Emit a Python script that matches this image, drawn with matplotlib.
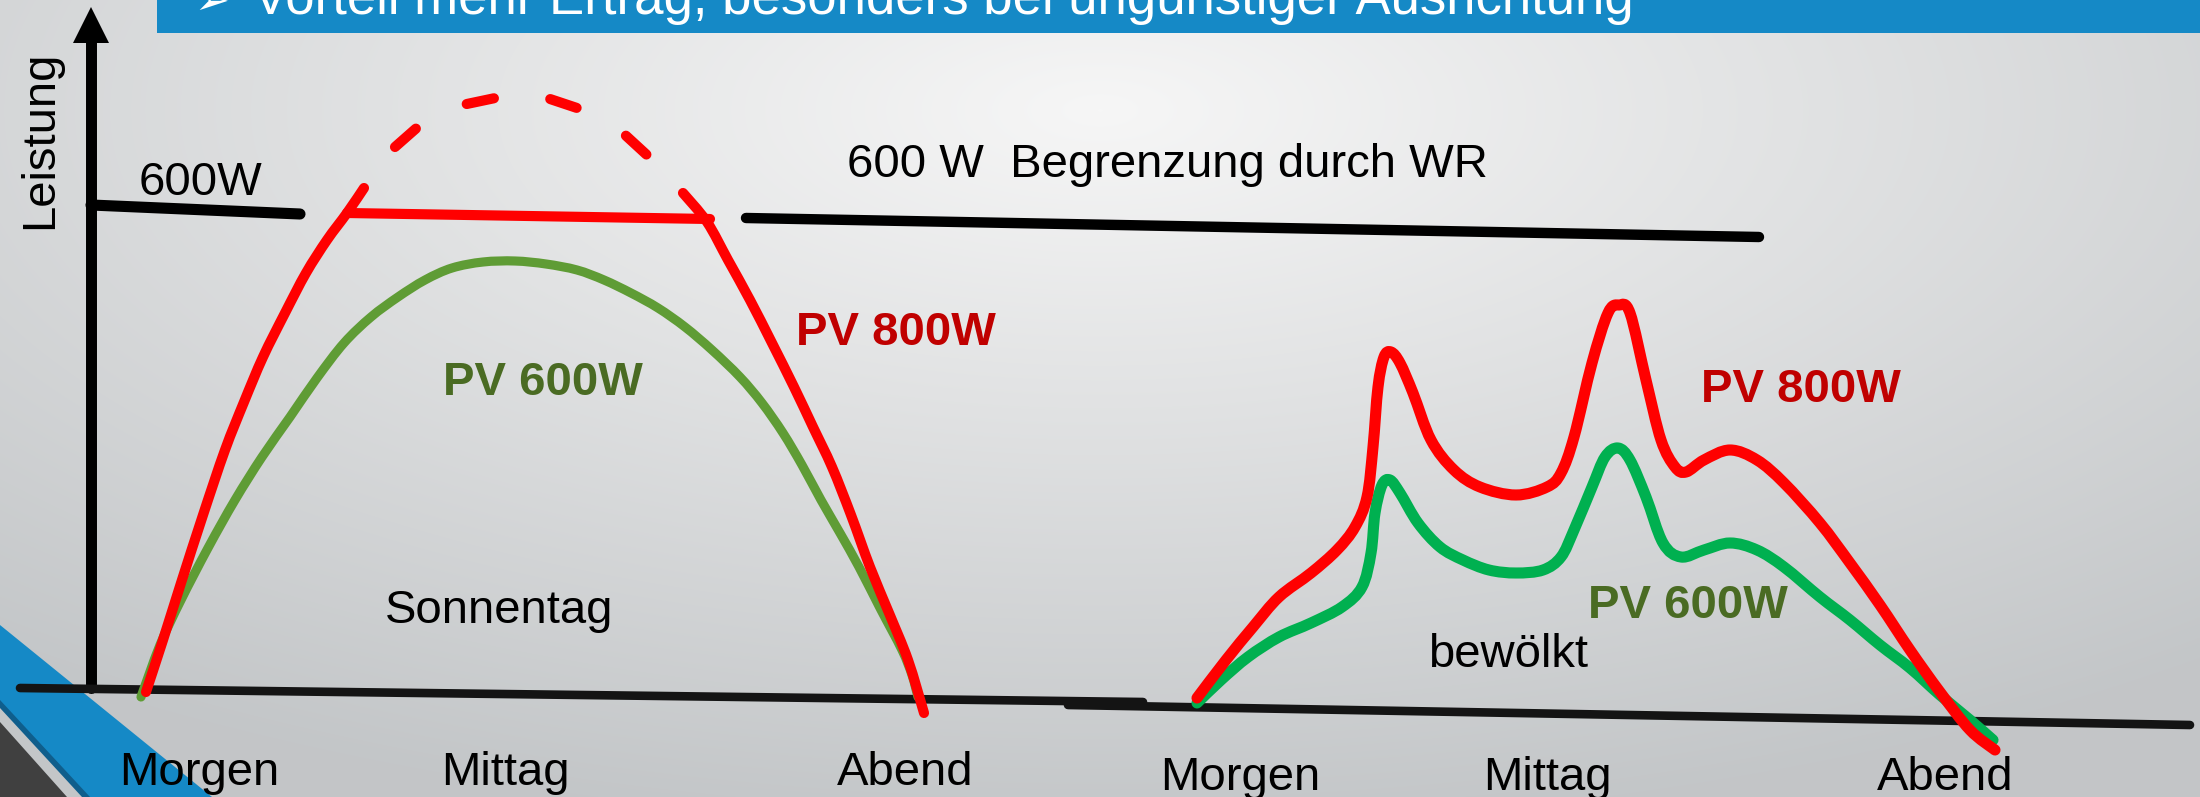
import numpy as np
import matplotlib.pyplot as plt
from matplotlib.path import Path
from matplotlib.patches import PathPatch

plt.rcParams['font.family'] = ['Liberation Sans', 'DejaVu Sans']
plt.rcParams['lines.scale_dashes'] = False

W, H = 2200, 797

# --- left sketch: sunny day (pixel coords of the slide) ---
sun800_left_x = [146, 163, 181, 203, 225, 244, 263, 285, 306, 327, 347, 364]
sun800_left_y = [692, 640, 583, 515, 450, 402, 357, 313, 273, 240, 213, 188]
sun800_right_x = [683, 707, 728, 750, 772, 794, 813, 832, 851, 870, 889, 908, 924]
sun800_right_y = [193, 222, 260, 300, 343, 387, 427, 467, 515, 567, 613, 660, 713]
clip_x = [347, 710]
clip_y = [213, 219]
arc_x = [395, 420, 440, 462, 500, 525, 547, 583, 603, 623, 648]
arc_y = [147, 125, 114, 105, 97, 95, 98, 110, 120, 133, 156]

sun600_x = [141, 160, 181, 208, 235, 262, 290, 317, 344, 371, 398, 425, 452, 483,
            515, 546, 577, 604, 631, 658, 685, 712, 740, 762, 783, 802, 821, 840,
            859, 880, 902, 912, 918]
sun600_y = [697, 645, 600, 548, 500, 457, 417, 378, 343, 317, 297, 280, 268, 262,
            261, 264, 270, 280, 293, 308, 327, 350, 377, 403, 433, 465, 500, 533,
            567, 608, 650, 675, 697]

# --- right sketch: cloudy day ---
cloud800_x = [1197, 1226, 1253, 1279, 1311, 1337, 1355, 1367, 1373, 1378, 1384, 1391,
              1400, 1413, 1431, 1454, 1480, 1516, 1547, 1561, 1574, 1592, 1608, 1619,
              1630, 1646, 1661, 1675, 1686, 1704, 1730, 1757, 1784, 1820, 1850, 1880,
              1910, 1940, 1970, 1995]
cloud800_y = [698, 660, 627, 597, 573, 550, 527, 497, 447, 387, 357, 352,
              363, 393, 440, 470, 487, 495, 487, 473, 437, 363, 313, 305,
              313, 380, 440, 467, 472, 460, 450, 460, 483, 523, 563, 605,
              650, 692, 730, 750]
cloud600_x = [1197, 1221, 1248, 1279, 1311, 1342, 1362, 1371, 1375, 1382, 1390, 1400,
              1418, 1440, 1463, 1489, 1516, 1543, 1561, 1574, 1592, 1605, 1618, 1630,
              1646, 1663, 1681, 1704, 1730, 1757, 1784, 1820, 1850, 1880, 1910, 1940,
              1970, 1993]
cloud600_y = [703, 680, 657, 637, 623, 607, 587, 553, 513, 485, 480, 493,
              523, 547, 560, 570, 573, 570, 557, 530, 487, 457, 448, 460,
              497, 543, 557, 550, 543, 550, 567, 597, 620, 645, 668, 695,
              720, 740]

# axes / limit lines
yaxis_x, yaxis_bottom, yaxis_tip = 91, 688, 7
base_left_x, base_left_y = [20, 1143], [688, 702]
base_right_x, base_right_y = [1068, 2190], [705, 725]
lim_short_x, lim_short_y = [91, 300], [205, 214]
lim_long_x, lim_long_y = [746, 1759], [218, 237]

# labels: (text, x, baseline y)
time_labels = [('Morgen', 199, 785), ('Mittag', 505, 785), ('Abend', 905, 785),
               ('Morgen', 1240, 790), ('Mittag', 1547, 790), ('Abend', 1945, 790)]

RED = '#FF0000'
GREEN_SUN = '#5F9C35'
GREEN_CLOUD = '#00B050'
TXT_RED = '#C00000'
TXT_GREEN = '#4A6B23'
BLUE = '#1589C6'


def sketch_path(xs, ys):
    # smooth bezier through the given points (like a freehand curve in a slide)
    p = np.column_stack([xs, ys]).astype(float)
    ext = np.vstack([p[0], p, p[-1]])
    verts = [p[0]]
    codes = [Path.MOVETO]
    for i in range(len(p) - 1):
        c1 = p[i] + (ext[i + 2] - ext[i]) / 6.0
        c2 = p[i + 1] - (ext[i + 3] - ext[i + 1]) / 6.0
        verts += [c1, c2, p[i + 1]]
        codes += [Path.CURVE4] * 3
    return Path(verts, codes)


def draw_curve(ax, xs, ys, color, lw, z):
    ax.add_patch(PathPatch(sketch_path(xs, ys), fill=False, edgecolor=color, lw=lw,
                           capstyle='round', joinstyle='round', zorder=z))


fig = plt.figure(figsize=(22, 7.97), dpi=100)
ax = fig.add_axes([0, 0, 1, 1])
ax.set_xlim(0, W)
ax.set_ylim(H, 0)
ax.axis('off')

# slide background (soft radial gradient)
yy, xx = np.mgrid[0:H, 0:W]
r = np.sqrt(((xx - 1100) / 1700.0) ** 2 + ((yy - 110) / 720.0) ** 2)
t = np.clip(r, 0, 1)[..., None]
light = np.array([0.965, 0.965, 0.965])
dark = np.array([0.765, 0.776, 0.784])
ax.imshow(light * (1 - t) + dark * t, extent=(0, W, H, 0), aspect='auto', zorder=0)

# title banner
ax.fill([157, W, W, 157], [0, 0, 33, 33], color=BLUE, zorder=1, lw=0)
ax.text(194, 14, '\u27a2', color='white', fontsize=30, va='baseline', ha='left',
        family=['DejaVu Sans'], zorder=2)
ax.text(253, 14, 'Vorteil mehr Ertrag, besonders bei ungünstiger Ausrichtung',
        color='white', fontsize=38, va='baseline', ha='left', zorder=2)

# bottom-left corner decoration
ax.fill([0, 212, 0], [625, H, H], color=BLUE, lw=0, zorder=1)
ax.fill([0, 90, 0], [700, H, H], color='#0F5E8C', lw=0, zorder=1)
ax.fill([0, 82, 0], [708, H, H], color='#C3C6C8', lw=0, zorder=1)
ax.fill([0, 67, 0], [722, H, H], color='#404040', lw=0, zorder=1)

kw = dict(solid_capstyle='round', solid_joinstyle='round')

# axes
ax.plot([yaxis_x, yaxis_x], [yaxis_bottom, 40], color='black', lw=7.9, zorder=3, **kw)
ax.fill([73, yaxis_x, 109], [43, yaxis_tip, 43], color='black', lw=0, zorder=3)
ax.plot(base_left_x, base_left_y, color='#141414', lw=6.2, zorder=3, **kw)
ax.plot(base_right_x, base_right_y, color='#141414', lw=6.2, zorder=3, **kw)

# inverter limit
ax.plot(lim_short_x, lim_short_y, color='black', lw=8, zorder=3, **kw)
ax.plot(lim_long_x, lim_long_y, color='black', lw=7.5, zorder=3, **kw)

# sunny day
draw_curve(ax, sun600_x, sun600_y, GREEN_SUN, 6.6, 4)
draw_curve(ax, sun800_left_x, sun800_left_y, RED, 7.3, 5)
draw_curve(ax, sun800_right_x, sun800_right_y, RED, 7.3, 5)
ax.plot(clip_x, clip_y, color=RED, lw=7.3, zorder=5, **kw)
ax.plot(arc_x, arc_y, color=RED, lw=7.3, zorder=5, dashes=(20, 41),
        dash_capstyle='round', solid_joinstyle='round')

# cloudy day
draw_curve(ax, cloud600_x, cloud600_y, GREEN_CLOUD, 8, 4)
draw_curve(ax, cloud800_x, cloud800_y, RED, 8, 5)

# texts
fs = 34
ax.text(52, 140, 'Leistung', fontsize=fs, rotation=90, rotation_mode='anchor',
        ha='center', va='baseline', zorder=6)
ax.text(139, 195, '600W', fontsize=fs, ha='left', va='baseline', zorder=6)
ax.text(847, 177, '600 W  Begrenzung durch WR', fontsize=fs, ha='left',
        va='baseline', zorder=6)
ax.text(896, 345, 'PV 800W', fontsize=fs, weight='bold', color=TXT_RED,
        ha='center', va='baseline', zorder=6)
ax.text(543, 395, 'PV 600W', fontsize=fs, weight='bold', color=TXT_GREEN,
        ha='center', va='baseline', zorder=6)
ax.text(499, 623, 'Sonnentag', fontsize=fs, ha='center', va='baseline', zorder=6)
ax.text(1801, 402, 'PV 800W', fontsize=fs, weight='bold', color=TXT_RED,
        ha='center', va='baseline', zorder=6)
ax.text(1688, 618, 'PV 600W', fontsize=fs, weight='bold', color=TXT_GREEN,
        ha='center', va='baseline', zorder=6)
ax.text(1508, 667, 'bewölkt', fontsize=fs, ha='center', va='baseline', zorder=6)
for label, x, y in time_labels:
    ax.text(x, y, label, fontsize=fs, ha='center', va='baseline', zorder=6)

fig.savefig('out.png', dpi=100)
